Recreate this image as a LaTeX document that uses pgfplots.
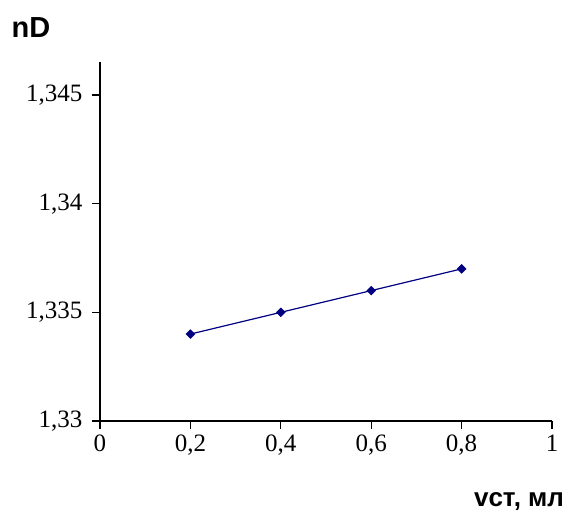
\documentclass[border=0pt]{standalone}
\usepackage{fontspec}
\setmainfont{Liberation Serif}
\newfontfamily\sansb{Liberation Sans}
\usepackage{pgfplots}
\pgfplotsset{compat=1.18}
\definecolor{navyline}{RGB}{0,0,128}
\begin{document}
\begin{tikzpicture}
\useasboundingbox (-100pt,-92pt) rectangle (478pt,421pt);
\begin{axis}[
  scale only axis,
  width=452pt, height=359pt,
  at={(0,0)}, anchor=south west,
  xmin=0, xmax=1, ymin=1.33, ymax=1.34652,
  axis x line=bottom, axis y line=left,
  axis line style={-, line width=1.2pt, black},
  tick align=outside,
  major tick length=8pt,
  tick style={line width=1.1pt, black},
  xtick={0,0.2,0.4,0.6,0.8,1},
  xticklabels={0,{0,2},{0,4},{0,6},{0,8},1},
  ytick={1.33,1.335,1.34,1.345},
  yticklabels={{1,33},{1,335},{1,34},{1,345}},
  ticklabel style={font=\fontsize{25}{28}\selectfont},
  yticklabel style={xshift=-6pt},
  xticklabel style={yshift=-2pt},
  clip=false,
]
\addplot[color=navyline, line width=1.2pt, mark=square*, mark size=2.8pt, mark options={rotate=45, fill=navyline, draw=navyline}]
coordinates {(0.2,1.334) (0.4,1.335) (0.6,1.336) (0.8,1.337)};
\end{axis}
\node at (-69pt,393pt) {\sansb\bfseries\fontsize{29}{32}\selectfont nD};
\node at (419pt,-81pt) {\sansb\bfseries\fontsize{26}{30}\selectfont vст, мл};
\end{tikzpicture}
\end{document}
